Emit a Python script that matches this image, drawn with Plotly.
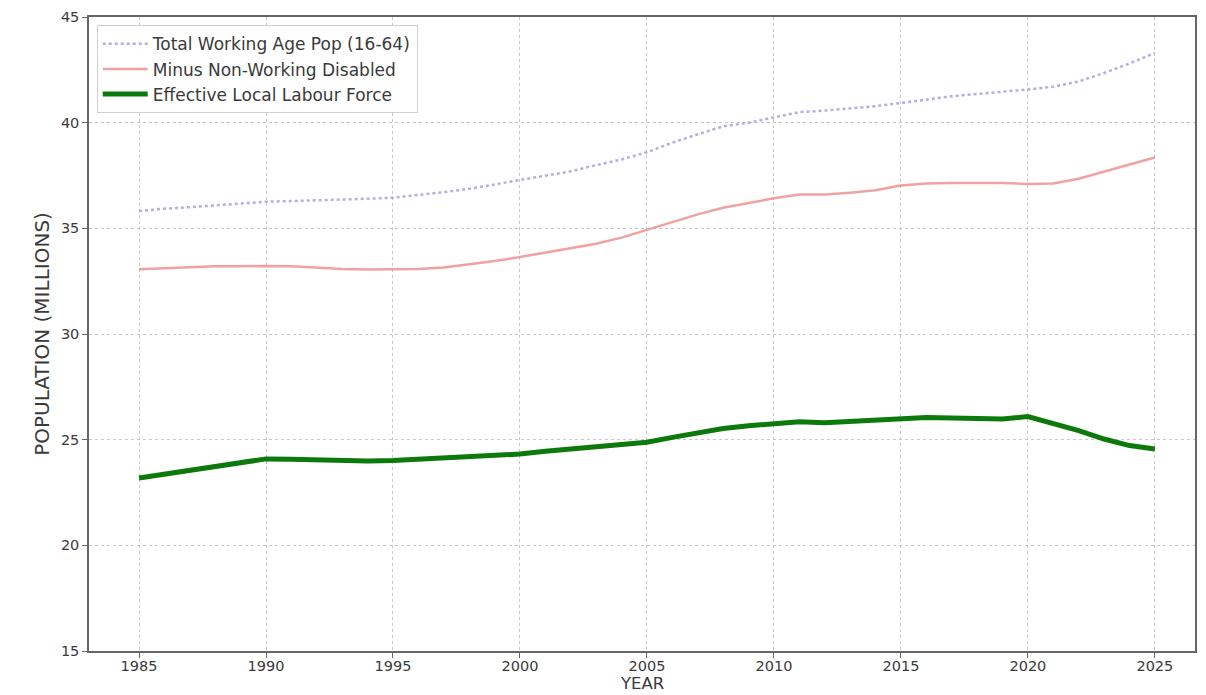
import plotly.graph_objects as go

years = list(range(1985, 2026))

total_working_age = [35.82, 35.93, 36.00, 36.08, 36.18, 36.26, 36.29, 36.32, 36.35, 36.40,
                     36.45, 36.57, 36.71, 36.87, 37.08, 37.27, 37.47, 37.70, 37.99, 38.26,
                     38.60, 39.05, 39.45, 39.83, 40.00, 40.25, 40.50, 40.57, 40.67, 40.78,
                     40.93, 41.10, 41.25, 41.36, 41.45, 41.57, 41.70, 41.95, 42.35, 42.80,
                     43.30]

minus_disabled = [33.06, 33.10, 33.15, 33.20, 33.20, 33.22, 33.20, 33.13, 33.07, 33.05,
                  33.06, 33.08, 33.15, 33.30, 33.45, 33.64, 33.85, 34.05, 34.27, 34.56,
                  34.92, 35.27, 35.66, 35.97, 36.20, 36.42, 36.60, 36.60, 36.68, 36.80,
                  37.03, 37.12, 37.15, 37.15, 37.15, 37.10, 37.12, 37.35, 37.70, 38.02,
                  38.35]

effective_labour = [23.19, 23.38, 23.57, 23.74, 23.91, 24.09, 24.07, 24.04, 24.01, 23.99,
                    24.01, 24.06, 24.13, 24.18, 24.24, 24.32, 24.45, 24.56, 24.67, 24.75,
                    24.88, 25.11, 25.35, 25.53, 25.66, 25.77, 25.85, 25.80, 25.86, 25.94,
                    26.00, 26.05, 26.03, 26.00, 25.98, 26.09, 25.77, 25.43, 25.03, 24.72,
                    24.56]

series_names = ["Total Working Age Pop (16-64)", "Minus Non-Working Disabled", "Effective Local Labour Force"]
x_ticks = [1985, 1990, 1995, 2000, 2005, 2010, 2015, 2020, 2025]
y_ticks = [15, 20, 25, 30, 35, 40, 45]
x_title = "YEAR"
y_title = "POPULATION (MILLIONS)"

FONT = "'DejaVu Sans', sans-serif"
TXT = "#3a3a3a"

fig = go.Figure()
fig.add_trace(go.Scatter(x=years, y=total_working_age, mode="lines", name=series_names[0],
                         line=dict(color="rgba(150,150,215,0.75)", width=2.5, dash="dot")))
fig.add_trace(go.Scatter(x=years, y=minus_disabled, mode="lines", name=series_names[1],
                         line=dict(color="rgba(238,145,145,0.85)", width=2.5)))
fig.add_trace(go.Scatter(x=years, y=effective_labour, mode="lines", name=series_names[2],
                         line=dict(color="#0b7a0b", width=5)))

fig.update_layout(
    width=1206, height=695,
    margin=dict(l=81, r=19, t=9, b=52),
    paper_bgcolor="white", plot_bgcolor="white",
    font=dict(family=FONT, size=14, color=TXT),
    showlegend=True,
    legend=dict(x=0.007, y=0.987, xanchor="left", yanchor="top",
                bgcolor="rgba(255,255,255,0.95)", bordercolor="#cfcfcf", borderwidth=1,
                font=dict(family=FONT, size=17, color=TXT),
                itemwidth=45),
    annotations=[dict(text=x_title, xref="paper", yref="paper", x=0.5, y=0,
                      xanchor="center", yanchor="top", yshift=-21, showarrow=False,
                      font=dict(family=FONT, size=16.5, color=TXT))],
)
fig.update_xaxes(
    range=[1983.03, 2026.58], tickvals=x_ticks, ticktext=[str(t) for t in x_ticks],
    showgrid=True, gridcolor="#c8c8c8", griddash="3px,3px", gridwidth=1,
    showline=True, linecolor="#666666", linewidth=1.5, mirror=True,
    ticks="outside", ticklen=5, tickcolor="#666666",
    tickfont=dict(size=14.5, color=TXT), ticklabelstandoff=-4,
    zeroline=False, automargin=False,
)
fig.update_yaxes(
    range=[15, 45], tickvals=y_ticks,
    showgrid=True, gridcolor="#c8c8c8", griddash="3px,3px", gridwidth=1,
    showline=True, linecolor="#666666", linewidth=1.5, mirror=True,
    ticks="outside", ticklen=5, tickcolor="#666666",
    tickfont=dict(size=14.5, color=TXT),
    title=dict(text=y_title, font=dict(size=20, color=TXT), standoff=6),
    zeroline=False, automargin=False,
)

fig.write_html("out.html")
